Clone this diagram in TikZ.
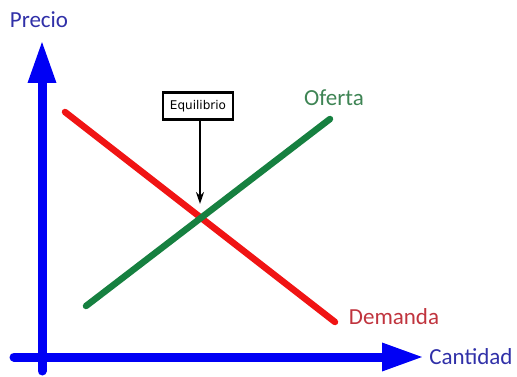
\documentclass[tikz,border=0pt]{standalone}
\usepackage{fontspec}
\setmainfont{Carlito}
\newfontfamily\boxfont{DejaVu Sans}
\usetikzlibrary{arrows.meta}
\definecolor{axisblue}{RGB}{0,0,245}
\definecolor{axistext}{RGB}{48,48,168}
\definecolor{demred}{RGB}{240,20,20}
\definecolor{demtext}{RGB}{192,52,62}
\definecolor{ofgreen}{RGB}{22,128,64}
\definecolor{oftext}{RGB}{62,132,84}
\tikzset{
  axisline/.style={draw=axisblue, line width=9pt, line cap=round},
  curveline/.style={line width=6.5pt, line cap=round},
  lbl/.style={font=\fontsize{23}{27}\selectfont, inner sep=0pt},
  eqbox/.style={draw=black, line width=2.6pt, fill=white, minimum width=70pt, minimum height=27pt, inner sep=2pt, font=\boxfont\fontsize{12}{14}\selectfont}
}
\begin{document}
\begin{tikzpicture}[x=1pt,y=-1pt]
\useasboundingbox (0,0) rectangle (517,377);
% axes
\coordinate (vbot) at (42,371);
\coordinate (vtop) at (42,40);
\coordinate (hleft) at (14,357);
\coordinate (hright) at (424,357);
\draw[axisline, -{Triangle[length=43pt,width=26pt]}] (vbot) -- (vtop);
\draw[axisline, -{Triangle[length=42pt,width=26pt]}] (hleft) -- (hright);
% curves
\coordinate (d1) at (65,112);
\coordinate (d2) at (335,322);
\coordinate (o1) at (86,306);
\coordinate (o2) at (330,119);
\draw[curveline, demred] (d1) -- (d2);
\draw[curveline, ofgreen] (o1) -- (o2);
% labels
\node[lbl, text=axistext] (precio) at (39,20) {Precio};
\node[lbl, text=axistext] (cantidad) at (471,357) {Cantidad};
\node[lbl, text=oftext] (oferta) at (334,98) {Oferta};
\node[lbl, text=demtext] (demanda) at (394,317) {Demanda};
% equilibrium
\node[eqbox] (eq) at (198,106) {Equilibrio};
\coordinate (eqtip) at (200,204);
\draw[line width=2.2pt, -{Stealth[length=12pt,width=8pt]}] (eq.south -| eqtip) -- (eqtip);
\end{tikzpicture}
\end{document}
